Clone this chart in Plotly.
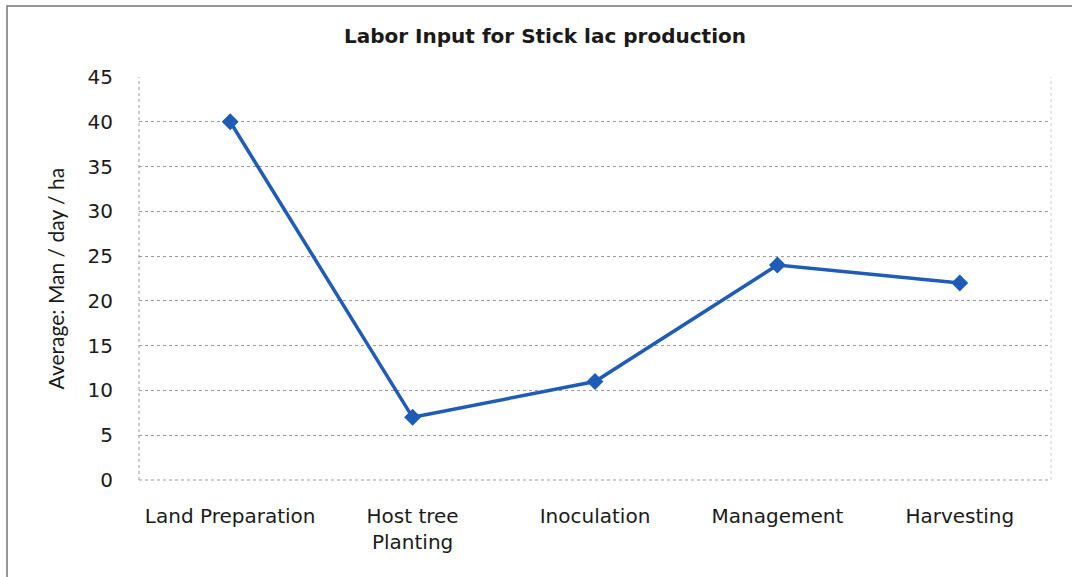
import plotly.graph_objects as go

categories = ["Land Preparation", "Host tree<br>Planting", "Inoculation", "Management", "Harvesting"]
values = [40, 7, 11, 24, 22]
y_ticks = [0, 5, 10, 15, 20, 25, 30, 35, 40, 45]

W, H = 1072, 577
L, R, T, B = 139, 1051, 77, 480

fig = go.Figure()
fig.add_trace(go.Scatter(
    x=categories, y=values, mode="lines+markers",
    line=dict(color="#1f5cb8", width=3.5),
    marker=dict(symbol="diamond", size=13, color="#1f5cb8"),
    showlegend=False,
))

font = "'DejaVu Sans', sans-serif"
fig.update_layout(
    width=W, height=H,
    margin=dict(l=L, r=W - R, t=T, b=H - B),
    paper_bgcolor="white", plot_bgcolor="white",
    font=dict(family=font, size=20, color="#1a1a1a"),
    title=dict(text="<b>Labor Input for Stick lac production</b>", x=545 / W, xanchor="center",
               y=1 - 36 / H, yanchor="middle", font=dict(size=20, family=font, color="#1a1a1a")),
    xaxis=dict(range=[-0.5, 4.5], showgrid=False, zeroline=False, ticks="", showline=False,
               tickfont=dict(size=20), ticklabelstandoff=22),
    yaxis=dict(range=[0, 45], tickvals=y_ticks, showgrid=True, gridcolor="#9a9a9a",
               griddash="dot", gridwidth=1, zeroline=False, ticks="", showline=False,
               tickfont=dict(size=20), ticklabelstandoff=25),
    annotations=[
        dict(text="Average: Man / day / ha", xref="paper", yref="paper",
             x=(55 - L) / (R - L), y=0.5, textangle=-90, showarrow=False,
             xanchor="center", yanchor="middle",
             font=dict(size=21, family="Lato, sans-serif", color="#1a1a1a")),
    ],
    shapes=[
        dict(type="line", xref="paper", yref="paper", x0=0, x1=1, y0=0, y1=0,
             line=dict(color="#9a9a9a", width=1, dash="dot")),
        dict(type="line", xref="paper", yref="paper", x0=0, x1=0, y0=0, y1=1,
             line=dict(color="#9a9a9a", width=1, dash="dot")),
        dict(type="line", xref="paper", yref="paper", x0=1, x1=1, y0=0, y1=1,
             line=dict(color="#cccccc", width=1, dash="dot")),
        dict(type="rect", xref="paper", yref="paper",
             x0=(7 - L) / (R - L), x1=(1080 - L) / (R - L),
             y0=(B - 590) / (B - T), y1=(B - 6) / (B - T),
             line=dict(color="#777777", width=1.5)),
    ],
)

fig.write_html("out.html", config={"displayModeBar": False},
               post_script="document.body.style.margin='0';")
